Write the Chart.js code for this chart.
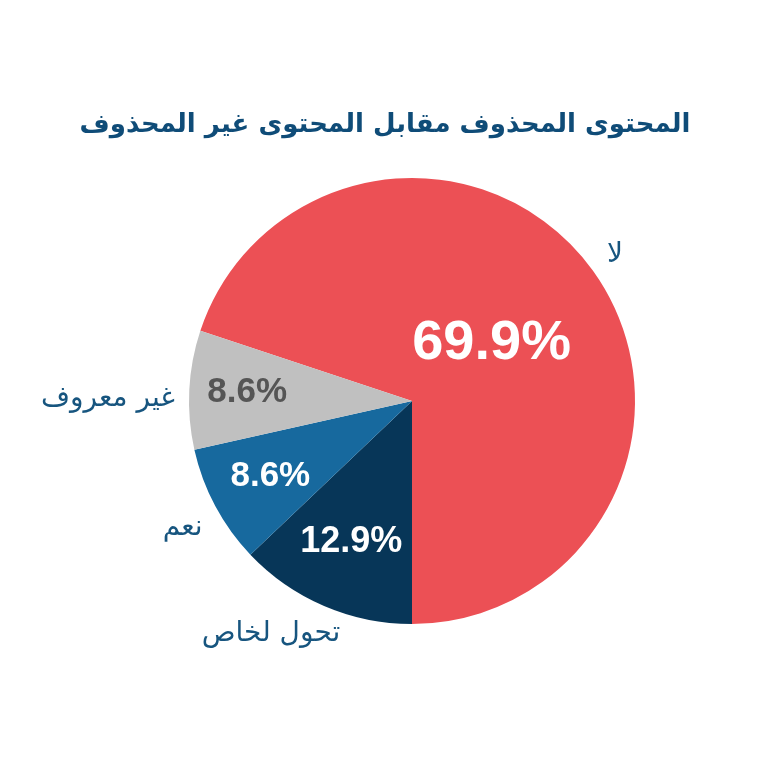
<!DOCTYPE html>
<html lang="ar">
<head>
<meta charset="utf-8">
<script src="https://cdn.jsdelivr.net/npm/chart.js@4"></script>
<style>
  html, body { margin: 0; padding: 0; background: #fff; }
  canvas { display: block; }
</style>
</head>
<body>
<canvas id="grafico" width="770" height="770"></canvas>
<script>
const titulo = "المحتوى المحذوف مقابل المحتوى غير المحذوف";
const categorias = ["لا", "تحول لخاص", "نعم", "غير معروف"];
const valores = [69.9, 12.9, 8.6, 8.6];
const rotulos = ["69.9%", "12.9%", "8.6%", "8.6%"];
const cores = ["#ec5055", "#073658", "#17699e", "#c0c0c0"];

// estilo dos rótulos (posição relativa ao raio / ajustes finos)
const corTextoPct = ["#ffffff", "#ffffff", "#ffffff", "#555555"];
const tamPct = [56, 36, 35, 35];
const raioPct = [0.44, 0.69, 0.72, 0.74];
const ajusteNome = [[4, -3, "center"], [25, 7, "right"], [7, 11, "right"], [8, 10, "right"]];

const total = valores.reduce((a, b) => a + b, 0);
// a fatia "لا" termina exatamente embaixo (180°)
const rotacao = 180 - 360 * valores[0] / total;

const rotulosPlugin = {
  id: "rotulos",
  afterDatasetsDraw(chart) {
    const ctx = chart.ctx;
    const arcos = chart.getDatasetMeta(0).data;
    ctx.save();
    // título
    ctx.direction = "rtl";
    ctx.textAlign = "center";
    ctx.textBaseline = "middle";
    ctx.fillStyle = "#0f4c78";
    ctx.font = "bold 26px 'DejaVu Sans'";
    ctx.fillText(titulo, 385, 125);

    arcos.forEach((arc, i) => {
      const p = arc.getProps(["x", "y", "startAngle", "endAngle", "outerRadius"], true);
      const meio = (p.startAngle + p.endAngle) / 2;
      // porcentagem dentro da fatia
      const r = p.outerRadius * raioPct[i];
      ctx.direction = "ltr";
      ctx.textAlign = "center";
      ctx.textBaseline = "middle";
      ctx.fillStyle = corTextoPct[i];
      ctx.font = "bold " + tamPct[i] + "px 'Liberation Sans', Arial";
      ctx.fillText(rotulos[i], p.x + Math.cos(meio) * r, p.y + Math.sin(meio) * r);
      // nome da categoria fora da fatia
      const ro = p.outerRadius * 1.1;
      const aj = ajusteNome[i];
      ctx.direction = "rtl";
      ctx.textAlign = aj[2];
      ctx.fillStyle = "#17557f";
      ctx.font = "28px 'DejaVu Sans'";
      ctx.fillText(categorias[i], p.x + Math.cos(meio) * ro + aj[0], p.y + Math.sin(meio) * ro + aj[1]);
    });
    ctx.restore();
  }
};

new Chart(document.getElementById("grafico"), {
  type: "pie",
  data: {
    labels: categorias,
    datasets: [{
      data: valores,
      backgroundColor: cores,
      borderWidth: 0,
      hoverOffset: 0
    }]
  },
  options: {
    responsive: false,
    devicePixelRatio: 1,
    animation: false,
    rotation: rotacao,
    layout: { padding: { left: 189, right: 135, top: 178, bottom: 146 } },
    plugins: {
      legend: { display: false },
      title: { display: false },
      tooltip: { enabled: false }
    }
  },
  plugins: [rotulosPlugin]
});
</script>
</body>
</html>
